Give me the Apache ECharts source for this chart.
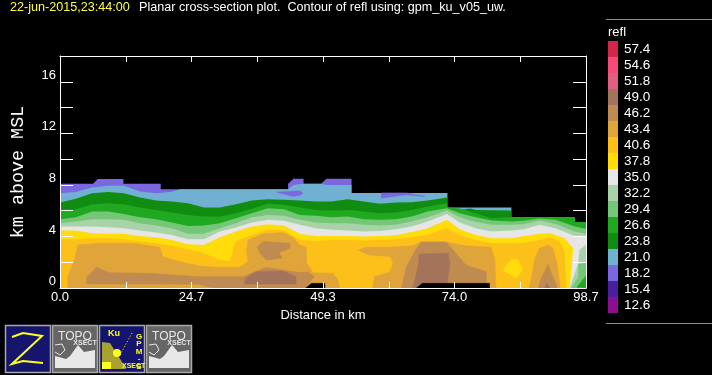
<!DOCTYPE html>
<html>
<head>
<meta charset="utf-8">
<style>html,body{margin:0;padding:0;background:#000}#c{width:712px;height:375px}</style>
<script src="https://cdn.jsdelivr.net/npm/echarts@6/dist/echarts.min.js"></script>
</head>
<body>
<div id="c"></div>
<script>
// ---- legend levels (top to bottom) and colours
const levelLabels = ['57.4','54.6','51.8','49.0','46.2','43.4','40.6','37.8','35.0','32.2','29.4','26.6','23.8','21.0','18.2','15.4','12.6'];
const levelColors = ['#D4264A','#F54A78','#DF6082','#A4735C','#C08B50','#E0A53A','#FCC018','#FFDC0A','#E6E6E6','#A8D2A8','#74C776','#20A820','#108C10','#70B0D0','#7B68E0','#4B1EA0','#8B0F90'];
const xTickLabels = ['0.0','24.7','49.3','74.0','98.7'];
const yTickLabels = ['0','4','8','12','16'];

// ---- km stations shared by the main contours
const km = [0,3,6,9,12,15,18,21,24,27,30,33,36,39,42,45,48,51,54,57,60,63,66,69,72.6];
const top23_8 = [6.63,6.92,7.36,7.44,7.36,7.02,6.79,6.71,6.58,6.24,6.24,6.50,6.79,6.89,6.84,6.79,6.71,6.71,6.89,6.71,6.53,6.63,6.66,6.79,7.02];
const top26_6 = [6.06,6.11,6.50,6.58,6.50,6.24,6.06,5.86,5.67,5.55,5.55,5.80,6.14,6.53,6.45,6.24,6.06,6.01,6.06,5.93,5.80,5.86,6.06,6.32,6.58];
const top29_4 = [5.34,5.49,5.93,5.93,5.75,5.49,5.34,5.08,4.82,4.85,5.03,5.42,5.80,6.19,6.11,5.67,5.60,5.49,5.55,5.34,5.29,5.34,5.55,5.93,6.19];
const top32_2 = [5.03,5.16,5.34,5.34,5.29,5.03,4.85,4.64,4.20,4.20,4.64,5.03,5.49,5.67,5.60,5.29,5.08,5.03,5.03,4.90,4.85,4.90,5.16,5.49,6.01];
const top35_0 = [4.77,4.77,4.77,4.72,4.64,4.46,4.30,4.12,3.78,3.78,4.38,4.69,5.08,5.29,5.21,4.90,4.64,4.51,4.46,4.38,4.43,4.56,4.77,5.16,5.75];
const top37_8 = [4.46,4.46,4.25,4.20,4.20,4.04,3.94,3.73,3.40,3.34,3.94,4.38,4.77,4.95,4.85,4.20,4.04,4.04,4.04,3.99,4.04,4.10,4.35,4.64,5.29];
const top40_6 = [3.78,3.78,3.86,3.86,3.78,3.60,3.47,3.27,3.01,2.70,2.18,3.60,4.12,4.51,4.46,3.73,3.65,3.73,3.73,3.68,3.73,3.78,3.94,4.12,4.64];

// ---- right-hand continuation of the contours, [km, height]
const tail23_8 = [[72.7,5.4],[75,6.06],[77,6.17],[78,6.06],[84.6,6.01],[84.7,5.3],[96.6,5.2],[96.6,5.0],[98.7,5.0]];
const tail26_6 = [[72.7,6.24],[75,6.17],[78,5.80],[81,5.42],[84.7,5.49],[87,5.49],[90,5.49],[93,5.49],[96.6,5.49],[96.6,5.13],[98.7,5.13]];
const tail29_4 = [[72.7,6.19],[75,5.80],[78,5.49],[81,5.23],[84.7,5.16],[87,5.21],[90,5.39],[93,5.29],[96.6,4.77],[98.7,4.59]];
const tail32_2 = [[72.7,6.01],[75,5.49],[78,5.13],[81,4.90],[84.7,4.90],[87,4.95],[90,5.23],[93,4.97],[96.6,4.38],[98.7,4.20]];
const tail35_0 = [[72.7,5.75],[75,5.08],[78,4.64],[81,4.38],[84.7,4.46],[87,4.56],[90,4.90],[93,4.64],[96.6,4.04],[98.7,3.99]];
const tail37_8 = [[72.7,5.29],[75,4.56],[78,4.12],[81,3.86],[84.7,3.86],[87,4.04],[90,4.20],[92,4.25],[94.7,3.86],[96.3,3.08],[96.1,2.05],[95.7,0.23],[95.6,0]];
const tail40_6 = [[72.7,4.64],[75,4.10],[78,3.73],[81,3.47],[84.7,3.47],[87,3.52],[90,3.73],[91.9,3.91],[93.8,3.60],[94.7,2.83],[95,0]];
const notch40_6 = [[30,2.18],[31.8,2.10],[32.3,2.60],[32.6,3.20]];

// ---- upper outline of the echo
const top18_2 = [[0,8.08],[6.2,8.08],[7.1,8.45],[11.9,8.45],[11.9,8.08],[18.9,8.08],[18.9,7.67],[42.8,7.67],[42.8,8.08],[43.8,8.47],[45.7,8.47],[45.7,8.08],[49,8.08],[50,8.47],[54.7,8.47],[54.7,0]];
const top21_0 = [[0,7.36],[3,7.44],[6,7.80],[9,7.93],[12,7.93],[15,7.49],[18,7.36],[21,7.46],[22.5,7.67],[42.8,7.67],[43.8,8.0],[45.7,8.08],[49,8.08],[50,8.0],[54.7,8.0],[54.7,7.38],[72.7,7.38],[72.7,6.24],[84.7,6.24],[84.7,5.49],[96.6,5.49],[96.6,5.13],[98.7,5.13]];

// ---- closed contours, [km, height]
const cell18a = [[40.6,7.44],[45,7.54],[45.6,7.36],[45,7.2],[43.7,7.10],[42.5,7.23]];
const cell18b = [[60.3,7.38],[65,7.38],[68.5,7.10],[65,7.23],[60.3,6.97]];
const cell43a = [[1.47,0],[1.47,0.88],[2.7,2.18],[3.35,3.34],[7.4,3.47],[13.7,3.47],[18.7,3.16],[19.3,2.44],[22.4,2.05],[26.2,1.71],[29.3,1.61],[33.7,1.61],[35.3,2.05],[35,2.95],[35.3,3.73],[38.1,4.20],[41.8,4.30],[43.7,3.94],[45,3.34],[46.2,3.16],[46.3,1.92],[47.5,1.19],[51.2,1.14],[52.2,0.62],[52.4,0]];
const cell43b = [[55.9,2.95],[57.5,3.16],[61.5,3.16],[66.2,3.27],[67.8,3.60],[71.9,3.60],[76.2,3.27],[80.9,3.16],[81.6,2.18],[81.8,0],[58.7,0],[59,0.88],[61.9,1.27],[62.5,1.92],[61.9,2.44],[57.8,2.57]];
const cell43c = [[91.6,3.34],[92.5,3.08],[93.2,2.05],[93.8,0.24],[93.8,0],[88,0],[88.5,0.88],[89.1,2.3],[90,3.08]];
const cell46a = [[5.04,0.31],[5.04,0.83],[6.8,1.61],[9.3,1.19],[16.8,1.14],[26.2,0.88],[34.3,0.88],[38.7,1.61],[41.8,1.40],[45,1.2],[46.5,1.25],[47.7,0.9],[46,0],[28.7,0],[26,0.3]];
const cell46b = [[37,3.16],[38.1,3.60],[43.1,3.47],[43.2,3.08],[41.1,2.75],[41.7,2.31],[38.7,2.18],[37.5,2.70]];
const cell46c = [[64.1,0],[65,1.66],[66.9,3.08],[67.8,3.55],[72.5,3.55],[76.2,1.79],[80,1.27],[80,0]];
const cell46d = [[91.6,1.84],[92.2,1.14],[93.2,0.24],[93.2,0],[89.7,0],[90.3,0.75]];
const cell49a = [[34.6,0.31],[34.8,0.75],[36.8,1.27],[41.8,1.33],[44.3,0.88],[44.3,0.31]];
const cell49b = [[66.2,0],[67.2,1.66],[67.4,2.64],[72.8,2.70],[73.2,1.92],[72.5,0]];
const cell49c = [[91.3,0.37],[91.9,0],[91,0]];
const cell37 = [[83.1,1.40],[84.7,2.23],[85.9,2.23],[86.8,1.40],[85.6,0.75],[84.7,1.01]];
const edge32 = [[97.5,2.95],[98.7,3.34],[98.7,0],[95.7,0],[97.3,1.92]];
const edge29 = [[97.3,1.84],[98.7,1.92],[98.7,0],[96,0],[97.3,0.88]];
const edge26 = [[97,0.05],[98.7,0.95],[98.7,0]];
const noData = [[[46.1,0],[47.2,0.36],[49.7,0.36],[49.7,0]],[[66.9,0],[68,0.36],[80.6,0.36],[80.6,0]]];

const C = Object.fromEntries(levelLabels.map((l,i)=>[l,levelColors[i]]));
const areaLine = (pts,color)=>({type:'line',data:pts,xAxisIndex:0,yAxisIndex:0,showSymbol:false,symbol:'none',
  lineStyle:{width:0},areaStyle:{color,opacity:1,origin:'start'},silent:true,animation:false,clip:true});
const join = (h,tail)=>km.map((k,i)=>[k,h[i]]).concat(tail);
const poly = (rings,color)=>({type:'custom',coordinateSystem:'cartesian2d',xAxisIndex:0,yAxisIndex:0,silent:true,animation:false,
  data:rings.map(r=>r[0]),clip:true,
  renderItem:(p,api)=>({type:'polygon',shape:{points:rings[p.dataIndex].map(q=>api.coord(q))},style:{fill:color,stroke:color,lineWidth:0.5}})});

const orangeLine = km.map((k,i)=>[k,top40_6[i]]);
const orangeAll = orangeLine.filter(p=>p[0]<=30).concat(notch40_6.slice(1),orangeLine.filter(p=>p[0]>30),tail40_6);

const series = [
  areaLine(top18_2,C['18.2']),
  areaLine(top21_0,C['21.0']),
  poly([cell18a,cell18b],C['18.2']),
  areaLine(join(top23_8,tail23_8),C['23.8']),
  areaLine(join(top26_6,tail26_6),C['26.6']),
  areaLine(join(top29_4,tail29_4),C['29.4']),
  areaLine(join(top32_2,tail32_2),C['32.2']),
  areaLine(join(top35_0,tail35_0),C['35.0']),
  areaLine(join(top37_8,tail37_8),C['37.8']),
  areaLine(orangeAll,C['40.6']),
  poly([cell43a,cell43b,cell43c],C['43.4']),
  poly([cell46a,cell46b,cell46c,cell46d],C['46.2']),
  poly([cell49a,cell49b,cell49c],C['49.0']),
  poly([cell37],C['37.8']),
  poly([edge32],C['32.2']),
  poly([edge29],C['29.4']),
  poly([edge26],C['26.6']),
  poly(noData,'#000000'),
  {type:'bar',xAxisIndex:2,yAxisIndex:2,barWidth:'100%',barCategoryGap:0,silent:true,animation:false,
   data:levelColors.map(c=>({value:1,itemStyle:{color:c}}))}
].map((s,i)=>({...s,z:i+1}));

const SANS = '"Liberation Sans",Arial,sans-serif';
const WHITE = '#ffffff';
const tickLine = {lineStyle:{color:WHITE,width:1}};
const DX = 98.7/8;
const line = {show:true,onZero:false,...tickLine};

const option = {
  backgroundColor:'#000000', animation:false,
  title:[
    {text:'22-jun-2015,23:44:00',left:10,top:1,padding:0,textStyle:{color:'#ffff40',fontFamily:SANS,fontSize:12.6,fontWeight:'normal'}},
    {text:'Planar cross-section plot.  Contour of refl using: gpm_ku_v05_uw.',left:139,top:1,padding:0,textStyle:{color:WHITE,fontFamily:SANS,fontSize:12.6,fontWeight:'normal'}},
    {text:'refl',left:608,top:26,padding:0,textStyle:{color:WHITE,fontFamily:SANS,fontSize:13,fontWeight:'normal'}}
  ],
  grid:[
    {left:60,top:56,width:526,height:232,containLabel:false,outerBoundsMode:'none'},
    {left:608,top:41,width:10,height:272,outerBoundsMode:'none'}
  ],
  xAxis:[
    {type:'value',gridIndex:0,min:0,max:98.7,interval:DX,position:'bottom',z:50,name:'Distance in km',nameLocation:'middle',nameGap:21,
     nameTextStyle:{color:WHITE,fontFamily:SANS,fontSize:13},
     axisLine:line,axisTick:{show:true,inside:true,length:6,...tickLine},splitLine:{show:false},
     axisLabel:{color:WHITE,fontFamily:SANS,fontSize:13,margin:3,showMinLabel:true,showMaxLabel:true,hideOverlap:false,
       formatter:v=>{const i=Math.round(v/DX);return i%2===0?xTickLabels[i/2]:'';}}},
    {type:'value',gridIndex:0,min:0,max:98.7,interval:DX,position:'top',z:50,
     axisLine:line,axisTick:{show:true,inside:true,length:6,...tickLine},splitLine:{show:false},axisLabel:{show:false}},
    {type:'value',gridIndex:1,min:0,max:1,show:false}
  ],
  yAxis:[
    {type:'value',gridIndex:0,min:0,max:18,interval:2,position:'left',z:50,name:'km above MSL',nameLocation:'middle',nameGap:33,nameRotate:90,
     nameTextStyle:{color:WHITE,fontFamily:'"Liberation Mono",monospace',fontSize:18.4},
     axisLine:line,axisTick:{show:true,inside:true,length:13,...tickLine},splitLine:{show:false},
     axisLabel:{color:WHITE,fontFamily:SANS,fontSize:13,margin:4,verticalAlign:'bottom',
       formatter:v=>(v%4===0&&v<18)?yTickLabels[v/4]:''}},
    {type:'value',gridIndex:0,min:0,max:18,interval:2,position:'right',z:50,
     axisLine:line,axisTick:{show:true,inside:true,length:13,...tickLine},splitLine:{show:false},axisLabel:{show:false}},
    {type:'category',gridIndex:1,data:levelLabels,inverse:true,position:'right',
     axisLine:{show:false},axisTick:{show:false},splitLine:{show:false},
     axisLabel:{color:WHITE,fontFamily:SANS,fontSize:13.5,margin:6,interval:0}}
  ],
  series,
  graphic:[
    {type:'line',silent:true,shape:{x1:606,y1:19.5,x2:712,y2:19.5},style:{stroke:'#909090',lineWidth:1}},
    {type:'line',silent:true,shape:{x1:606,y1:323.5,x2:712,y2:323.5},style:{stroke:'#909090',lineWidth:1}},
    // Z button
    {type:'rect',silent:true,shape:{x:5.5,y:325.5,width:45,height:47},style:{fill:'#15156E',stroke:'#A8A8A8',lineWidth:1.5}},
    {type:'polyline',silent:true,shape:{points:[[12,337],[23,333],[42,336],[12,364],[23,361],[43,363]]},style:{stroke:'#FFFF20',fill:null,lineWidth:2}},
    // TOPO buttons
    ...[52,146].flatMap(x=>[
      {type:'rect',silent:true,shape:{x:x+0.5,y:325.5,width:45,height:47},style:{fill:'#666666',stroke:'#A8A8A8',lineWidth:1.5}},
      {type:'polygon',silent:true,shape:{points:[[x+3,368],[x+3,356],[x+14,359],[x+18,356],[x+26,345],[x+32,352],[x+43,350],[x+43,368]]},style:{fill:'#E8E8E8'}},
      {type:'polyline',silent:true,shape:{points:[[x+3,345],[x+10,344],[x+13,350],[x+8,355],[x+3,352]]},style:{stroke:'#E8E8E8',fill:null,lineWidth:1}},
      {type:'text',silent:true,style:{x:x+23,y:331,text:'TOPO',fill:'#E8E8E8',font:'12px '+SANS,textAlign:'center'}},
      {type:'text',silent:true,style:{x:x+33,y:340,text:'XSECT',fill:'#E8E8E8',font:'bold 7px '+SANS,textAlign:'center'}}
    ]),
    // GPM button
    {type:'rect',silent:true,shape:{x:99.5,y:325.5,width:45,height:47},style:{fill:'#15156E',stroke:'#A8A8A8',lineWidth:1.5}},
    {type:'polygon',silent:true,shape:{points:[[102,342],[110,343],[122,362],[126,369],[102,369]]},style:{fill:'#A8A030'}},
    {type:'rect',silent:true,shape:{x:102,y:362,width:9,height:7},style:{fill:'#FFFF20'}},
    {type:'circle',silent:true,shape:{cx:117,cy:353,r:4},style:{fill:'#FFFF20'}},
    {type:'line',silent:true,shape:{x1:120,y1:355,x2:132,y2:333},style:{stroke:'#FFFF20',lineWidth:1,lineDash:[1,2]}},
    {type:'text',silent:true,style:{x:108,y:329,text:'Ku',fill:'#FFFF20',font:'bold 9px '+SANS}},
    {type:'text',silent:true,style:{x:139,y:333,text:'G\nP\nM\n-\nS',fill:'#FFFF20',font:'bold 8px '+SANS,textAlign:'center',lineHeight:7.5}},
    {type:'text',silent:true,style:{x:122,y:363,text:'XSECT',fill:'#FFFF20',font:'bold 7px '+SANS}}
  ]
};
echarts.init(document.getElementById('c'),null,{renderer:'canvas'}).setOption(option);
</script>
</body>
</html>
